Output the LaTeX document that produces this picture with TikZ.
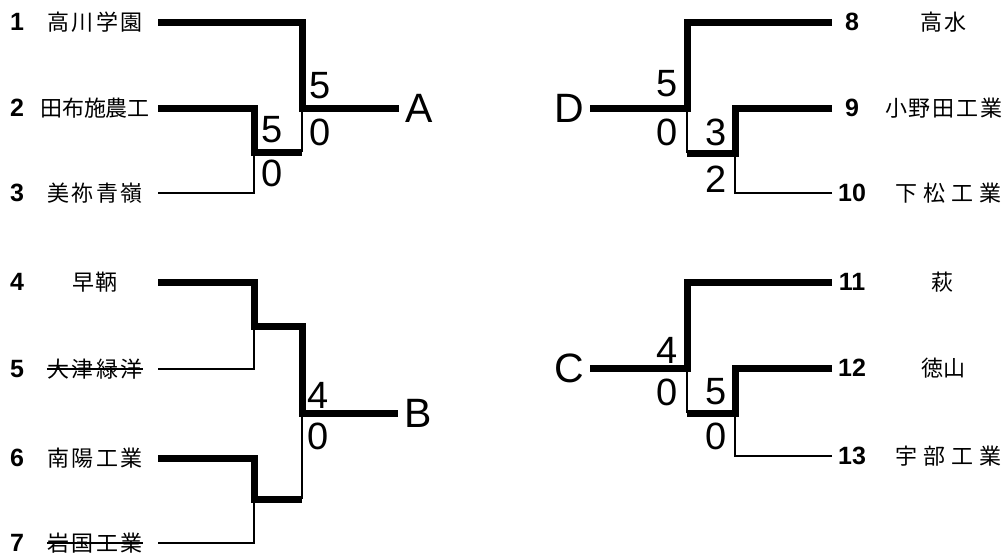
\documentclass[tikz,border=0pt]{standalone}
\usepackage{fontspec}
\setmainfont{Liberation Sans}
\newfontfamily\cjk{Noto Sans CJK JP}
\begin{document}
\begin{tikzpicture}[x=1pt,y=-1pt,win/.style={line width=7pt,line join=miter},lose/.style={line width=2pt}]
			\newcommand{\myfontname}[2]{
				\makebox[#1pt][s]{\fontsize{22}{22}\selectfont\cjk #2}
			}\newcommand{\myfontseed}[1]{
				\fontsize{25}{25}\selectfont\bfseries{#1}
			}\newcommand{\myfontscore}[1]{
				\fontsize{38}{38}\selectfont{#1}
			}\newcommand{\myfontblock}[1]{
				\fontsize{41}{41}\selectfont{#1}
			}%Canvas
			\useasboundingbox (0,0) rectangle (1005,558);
			%Teams on the left side
			\foreach \i/\y/\x/\w/\name in {1/22/95/95/高\hfill 川\hfill 学\hfill 園,2/108/93.5/107/田\hfill 布\hfill 施\hfill 農\hfill 工,3/193/95/95/美\hfill 祢\hfill 青\hfill 嶺,4/282/95/46/早\hfill 鞆,5/369/95/96/大\hfill 津\hfill 緑\hfill 洋,6/458/95/95/南\hfill 陽\hfill 工\hfill 業,7/543/95/95/岩\hfill 国\hfill 工\hfill 業} {
				\node [inner sep=0] (seed\i) at (17,\y) {\myfontseed{\i}};
				\node [inner sep=0] (team\i) at (\x,\y) {\myfontname{\w}{\name}};
				\coordinate (l\i) at (158,\y);
			}
			%Teams on the right side
			\foreach \i/\y/\x/\w/\name in {8/22/943.5/47/高\hfill 水,9/108/943.5/117/小\hfill 野\hfill 田\hfill 工\hfill 業,10/193/948.5/107/下\hfill 松\hfill 工\hfill 業,11/282/942/22/萩,12/368/943.5/45/徳\hfill 山,13/456/948.5/107/宇\hfill 部\hfill 工\hfill 業} {
				\node [inner sep=0] (seed\i) at (852,\y) {\myfontseed{\i}};
				\node [inner sep=0] (team\i) at (\x,\y) {\myfontname{\w}{\name}};
				\coordinate (r\i) at (832,\y);
			}
			%Withdrawn teams
			\draw [line width=1.4pt] (team5.west) -- (team5.east);
			\draw [line width=1.4pt] (team7.west) -- (team7.east);
			%Block letters
			\node [inner sep=6pt] (blockA) at (419,108) {\myfontblock{A}};
			\node [inner sep=6pt] (blockB) at (418,413) {\myfontblock{B}};
			\node [inner sep=6pt] (blockD) at (569,108) {\myfontblock{D}};
			\node [inner sep=6pt] (blockC) at (569,368) {\myfontblock{C}};
			%Block A
			\coordinate (m23) at (254,152);
			\coordinate (q23) at (302,152);
			\coordinate (mA) at (302,108);
			\draw [win] (l1) -| (mA) -- (blockA);
			\draw [win] (l2) -| (m23) -- (q23);
			\draw [lose] (l3) -| (m23);
			\draw [lose] (q23) -- (mA);
			%Block B
			\coordinate (m45) at (254,326);
			\coordinate (q45) at (302,326);
			\coordinate (m67) at (254,499);
			\coordinate (q67) at (302,499);
			\coordinate (mB) at (302,413);
			\draw [win] (l4) -| (m45) -- (q45) -- (mB) -- (blockB);
			\draw [lose] (l5) -| (m45);
			\draw [win] (l6) -| (m67) -- (q67);
			\draw [lose] (l7) -| (m67);
			\draw [lose] (q67) -- (mB);
			%Block D
			\coordinate (m910) at (735,153);
			\coordinate (q910) at (687,153);
			\coordinate (mD) at (687,108);
			\draw [win] (r8) -| (mD) -- (blockD);
			\draw [win] (r9) -| (m910) -- (q910);
			\draw [lose] (r10) -| (m910);
			\draw [lose] (q910) -- (mD);
			%Block C
			\coordinate (m1213) at (735,413);
			\coordinate (q1213) at (687,413);
			\coordinate (mC) at (687,368);
			\draw [win] (r11) -| (mC) -- (blockC);
			\draw [win] (r12) -| (m1213) -- (q1213);
			\draw [lose] (r13) -| (m1213);
			\draw [lose] (q1213) -- (mC);
			% Scores
			%scoresA
			\node [inner sep=0] (scoreA1) at (320,86) {\myfontscore{5}};
			\node [inner sep=0] (scoreA2) at (320,132) {\myfontscore{0}};
			\node [inner sep=0] (score23a) at (272,130) {\myfontscore{5}};
			\node [inner sep=0] (score23b) at (272,173) {\myfontscore{0}};
			%scoresB
			\node [inner sep=0] (scoreB1) at (318,395) {\myfontscore{4}};
			\node [inner sep=0] (scoreB2) at (318,436) {\myfontscore{0}};
			%scoresD
			\node [inner sep=0] (scoreD1) at (667,84) {\myfontscore{5}};
			\node [inner sep=0] (scoreD2) at (667,132) {\myfontscore{0}};
			\node [inner sep=0] (score910a) at (716,132) {\myfontscore{3}};
			\node [inner sep=0] (score910b) at (716,179) {\myfontscore{2}};
			%scoresC
			\node [inner sep=0] (scoreC1) at (667,350) {\myfontscore{4}};
			\node [inner sep=0] (scoreC2) at (667,392) {\myfontscore{0}};
			\node [inner sep=0] (score1213a) at (716,392) {\myfontscore{5}};
			\node [inner sep=0] (score1213b) at (716,436) {\myfontscore{0}};
\end{tikzpicture}
\end{document}
